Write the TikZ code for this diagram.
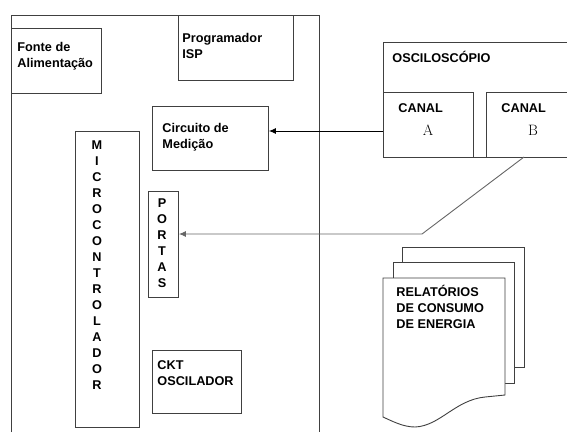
\documentclass[tikz,border=0pt]{standalone}
\usepackage{fontspec}
\setsansfont{Liberation Sans}[BoldFont={Liberation Sans Bold}]
\usetikzlibrary{arrows.meta}

\begin{document}
\begin{tikzpicture}[x=1pt, y=-1pt, line width=0.9pt,
        box/.style={draw=black!75, fill=white, anchor=north west, inner sep=0pt},
        txt/.style={anchor=base west, inner sep=0pt, align=left, font=\sffamily\bfseries\fontsize{12.7}{16}\selectfont},
        vtxt/.style={anchor=base, inner sep=0pt, align=center, font=\sffamily\bfseries\fontsize{12.7}{16}\selectfont},
        chan/.style={anchor=base, inner sep=0pt, font=\rmfamily\fontsize{15}{18}\selectfont},
        arr/.style={-{Latex[length=7pt,width=6pt]}}]
        \useasboundingbox (0,0) rectangle (567,432);

        % Placa
        \draw[black!75] (11,432) -- (11,15) -- (319,15) -- (319,432);

        % Blocos da placa
        \node[box, minimum width=90pt,  minimum height=65pt]  (fonte)   at (11,28)   {};
        \node[box, minimum width=115pt, minimum height=65pt]  (isp)     at (178,15)  {};
        \node[box, minimum width=116pt, minimum height=64pt]  (circ)    at (152,106) {};
        \node[box, minimum width=64pt,  minimum height=296pt] (micro)   at (75,131)  {};
        \node[box, minimum width=30pt,  minimum height=106pt] (portas)  at (148,191) {};
        \node[box, minimum width=89pt,  minimum height=63pt]  (osc)     at (152,350) {};

        % textos (ancorados na ultima linha)
        \node[txt]  (fonteT)  at (17,67.7)   {Fonte de\\Alimentação};
        \node[txt]  (ispT)    at (182,58.3)  {Programador\\ISP};
        \node[txt]  (circT)   at (162,148)   {Circuito de\\Medição};
        \node[txt]  (oscT)    at (157,385.3) {CKT\\OSCILADOR};
        \node[vtxt] (microT)  at (97,389)    {M\\I\\C\\R\\O\\C\\O\\N\\T\\R\\O\\L\\A\\D\\O\\R};
        \node[vtxt] (portasT) at (162,287)   {P\\O\\R\\T\\A\\S};

        % Osciloscopio
        \node[box, minimum width=185pt, minimum height=115pt] (scope) at (383,42) {};
        \node[box, minimum width=90pt,  minimum height=65pt]  (chA)   at (383,92) {};
        \node[box, minimum width=82pt,  minimum height=65pt]  (chB)   at (486,92) {};
        \node[txt]  (scopeT) at (392,62.3)  {OSCILOSCÓPIO};
        \node[txt]  (chAT)   at (398,112.3) {CANAL};
        \node[txt]  (chBT)   at (501,112.3) {CANAL};
        \node[chan] (chAL)   at (428,135)   {A};
        \node[chan] (chBL)   at (533,135)   {B};

        % Relatorios
        \node[box, minimum width=122pt, minimum height=120pt] (folha3) at (402,247) {};
        \node[box, minimum width=121pt, minimum height=121pt] (folha2) at (393,262) {};
        \draw[black!75, fill=white] (383,278) -- (505,278) -- (505,395) -- (485,397)
            .. controls (455,400) and (440,426) .. (415,427)
            .. controls (403,427) and (392,421) .. (383,417) -- cycle;
        \node[txt] (relT) at (396,328.3) {RELATÓRIOS\\DE CONSUMO\\DE ENERGIA};

        % Ligacoes
        \coordinate (tapA) at (383,131);
        \coordinate (tapB) at (524,157);
        \coordinate (bend) at (422,234);
        \draw[arr] (tapA) -- (tapA -| circ.east);
        \draw[arr, black!60] (tapB) -- (bend) -- (bend -| portas.east);
\end{tikzpicture}
\end{document}
